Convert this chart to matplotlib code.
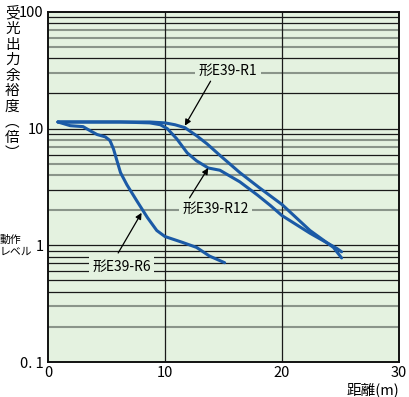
import matplotlib.pyplot as plt

plt.rcParams['font.family'] = ['Noto Sans CJK JP', 'DejaVu Sans']

# distance (m) vs excess gain (times)
r1_x = [0.85, 4.4, 8.7, 10.0, 10.85, 11.7, 12.7, 13.6, 14.7, 16.4, 18.1, 20.0, 22.4, 24.4, 25.1]
r1_y = [11.4, 11.4, 11.4, 11.2, 10.8, 10.2, 8.7, 7.4, 5.9, 4.2, 3.1, 2.24, 1.34, 0.96, 0.78]

r12_x = [0.85, 6.2, 8.7, 9.6, 10.2, 11.0, 11.9, 12.7, 13.7, 14.7, 16.4, 17.9, 19.0, 20.0, 22.4, 24.7, 25.1]
r12_y = [11.4, 11.4, 11.2, 10.8, 10.0, 8.2, 6.2, 5.3, 4.6, 4.4, 3.5, 2.7, 2.2, 1.8, 1.27, 0.94, 0.88]

r6_x = [0.85, 1.9, 3.0, 3.6, 4.2, 4.9, 5.3, 5.6, 5.9, 6.2, 6.75, 7.6, 8.5, 9.3, 10.0, 11.5, 12.7, 13.8, 15.1]
r6_y = [11.4, 10.6, 10.4, 9.6, 8.9, 8.5, 7.9, 6.7, 5.3, 4.2, 3.3, 2.4, 1.73, 1.34, 1.19, 1.06, 0.96, 0.81, 0.71]

y_ticks = [0.1, 1, 10, 100]
y_ticklabels = ['0. 1', '1', '10', '100']
x_ticks = [0, 10, 20, 30]

grid_black = [90, 80, 40, 20, 10, 9, 6, 3, 1, 0.9, 0.8, 0.7, 0.6, 0.5, 0.4]
grid_gray = [70, 60, 50, 30, 8, 7, 5, 4, 2, 0.3, 0.2]

bg = '#e4f2e0'
blue = '#1b5aa6'

fig = plt.figure(figsize=(4.10, 3.97), dpi=100)
ax = fig.add_axes([0.117, 0.088, 0.856, 0.882])
ax.set_facecolor(bg)
ax.set_yscale('log')
ax.set_xlim(0, 30)
ax.set_ylim(0.1, 100)

for v in grid_gray:
    ax.axhline(v, color='#8a958a', lw=1.5, zorder=1)
for v in grid_black:
    ax.axhline(v, color='#1a1a1a', lw=0.9, zorder=1)
for v in [10, 20]:
    ax.axvline(v, color='#1a1a1a', lw=0.9, zorder=1)

ax.plot(r1_x, r1_y, color=blue, lw=2.2, zorder=3, solid_capstyle='round')
ax.plot(r12_x, r12_y, color=blue, lw=2.2, zorder=3, solid_capstyle='round')
ax.plot(r6_x, r6_y, color=blue, lw=2.2, zorder=3, solid_capstyle='round')

box = dict(facecolor=bg, edgecolor='none', pad=2.5)
arrow = dict(arrowstyle='-|>', color='k', lw=0.9, mutation_scale=9, shrinkA=0, shrinkB=0)
ax.text(15.4, 31, '形E39-R1', ha='center', va='center', fontsize=10, bbox=box, zorder=4)
ax.annotate('', xy=(11.7, 10.6), xytext=(13.9, 25.5), arrowprops=arrow, zorder=4)
ax.text(14.3, 2.05, '形E39-R12', ha='center', va='center', fontsize=10, bbox=box, zorder=4)
ax.annotate('', xy=(13.7, 4.6), xytext=(12.1, 2.55), arrowprops=arrow, zorder=4)
ax.text(6.3, 0.66, '形E39-R6', ha='center', va='center', fontsize=10, bbox=box, zorder=4)
ax.annotate('', xy=(8.0, 1.9), xytext=(6.0, 0.86), arrowprops=arrow, zorder=4)

ax.set_yticks(y_ticks)
ax.set_yticklabels(y_ticklabels)
ax.set_yticks([], minor=True)
ax.set_xticks(x_ticks)
ax.tick_params(length=0, labelsize=10.5, pad=3)
for s in ax.spines.values():
    s.set_linewidth(1.4)
    s.set_color('#111111')
    s.set_zorder(5)

fig.text(0.03, 0.985, '受\n光\n出\n力\n余\n裕\n度\n︵\n倍\n︶', ha='center', va='top',
         fontsize=10.5, linespacing=1.14)
fig.text(0.0, 0.382, '動作\nレベル', ha='left', va='center', fontsize=7.8, linespacing=1.25)
fig.text(0.975, 0.018, '距離(m)', ha='right', va='center', fontsize=10.5)

fig.savefig('out.png', dpi=100)
